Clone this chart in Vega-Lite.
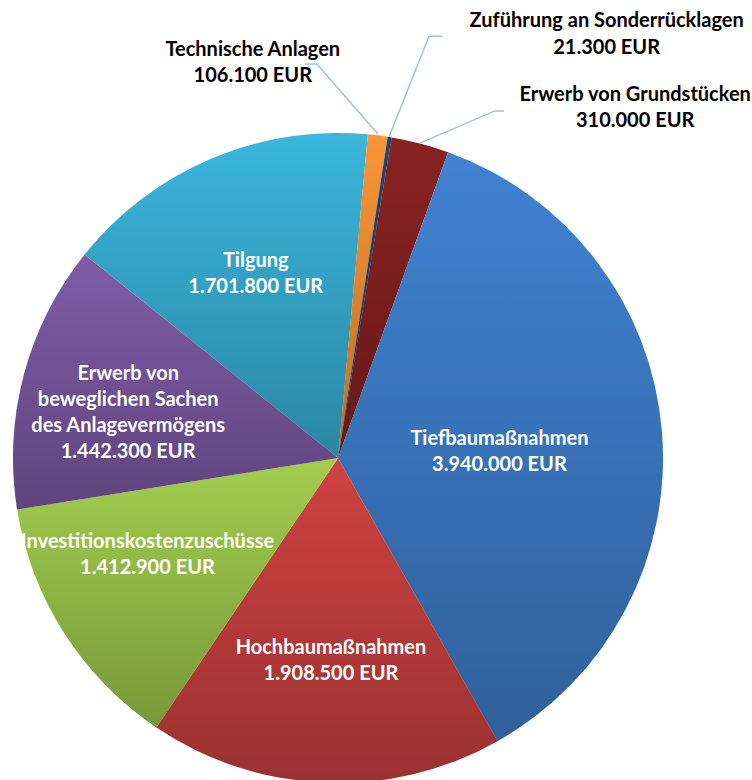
{
  "$schema": "https://vega.github.io/schema/vega-lite/v6.json",
  "width": 676,
  "height": 650,
  "autosize": {"type": "none"},
  "padding": {"left": 0, "top": 133, "right": 76, "bottom": 0},
  "background": "white",
  "config": {"view": {"stroke": null}},
  "datasets": {
    "slices": [
      {"idx": 1, "cat": "Erwerb von Grundstücken", "value": 310000, "label": "Erwerb von Grundstücken\n310.000 EUR"},
      {"idx": 2, "cat": "Tiefbaumaßnahmen", "value": 3940000, "label": "Tiefbaumaßnahmen\n3.940.000 EUR"},
      {"idx": 3, "cat": "Hochbaumaßnahmen", "value": 1908500, "label": "Hochbaumaßnahmen\n1.908.500 EUR"},
      {"idx": 4, "cat": "Investitionskostenzuschüsse", "value": 1412900, "label": "Investitionskostenzuschüsse\n1.412.900 EUR"},
      {"idx": 5, "cat": "Erwerb von beweglichen Sachen des Anlagevermögens", "value": 1442300, "label": "Erwerb von\nbeweglichen Sachen\ndes Anlagevermögens\n1.442.300 EUR"},
      {"idx": 6, "cat": "Tilgung", "value": 1701800, "label": "Tilgung\n1.701.800 EUR"},
      {"idx": 7, "cat": "Technische Anlagen", "value": 106100, "label": "Technische Anlagen\n106.100 EUR"},
      {"idx": 8, "cat": "Zuführung an Sonderrücklagen", "value": 21300, "label": "Zuführung an Sonderrücklagen\n21.300 EUR"}
    ],
    "leaders": [
      {"cat": "Technische Anlagen", "pt": 1, "lx": 0.123, "ly": 0.997},
      {"cat": "Technische Anlagen", "pt": 2, "lx": -0.065, "ly": 1.212},
      {"cat": "Technische Anlagen", "pt": 3, "lx": -0.102, "ly": 1.212},
      {"cat": "Zuführung an Sonderrücklagen", "pt": 1, "lx": 0.157, "ly": 0.988},
      {"cat": "Zuführung an Sonderrücklagen", "pt": 2, "lx": 0.28, "ly": 1.298},
      {"cat": "Zuführung an Sonderrücklagen", "pt": 3, "lx": 0.32, "ly": 1.298},
      {"cat": "Erwerb von Grundstücken", "pt": 1, "lx": 0.252, "ly": 0.969},
      {"cat": "Erwerb von Grundstücken", "pt": 2, "lx": 0.483, "ly": 1.068},
      {"cat": "Erwerb von Grundstücken", "pt": 3, "lx": 0.511, "ly": 1.068}
    ]
  },
  "layer": [
    {
      "data": {"name": "slices"},
      "mark": {"type": "arc", "stroke": null},
      "encoding": {
        "theta": {"field": "value", "type": "quantitative", "stack": true, "scale": {"range": [0.1658, 6.4490]}},
        "order": {"field": "idx", "type": "quantitative"},
        "color": {
          "field": "cat", "type": "nominal", "legend": null,
          "scale": {
            "domain": ["Erwerb von Grundstücken", "Tiefbaumaßnahmen", "Hochbaumaßnahmen", "Investitionskostenzuschüsse", "Erwerb von beweglichen Sachen des Anlagevermögens", "Tilgung", "Technische Anlagen", "Zuführung an Sonderrücklagen"],
            "range": ["#8a2222", "#4082d2", "#d04242", "#a2ce4e", "#805ca9", "#3ab6dc", "#fa9636", "#224476"]
          }
        }
      }
    },
    {
      "data": {"name": "slices"},
      "mark": {
        "type": "arc",
        "fill": {"gradient": "linear", "x1": 0, "y1": 0, "x2": 0, "y2": 1,
          "stops": [{"offset": 0, "color": "rgba(0,0,0,0)"}, {"offset": 1, "color": "rgba(0,0,0,0.26)"}]}
      },
      "encoding": {
        "theta": {"field": "value", "type": "quantitative", "stack": true},
        "order": {"field": "idx", "type": "quantitative"}
      }
    },
    {
      "data": {"name": "slices"},
      "mark": {"type": "text", "font": "Lato", "fontWeight": "bold", "fontSize": 20, "fill": "white", "align": "center", "baseline": "middle", "lineBreak": "\n", "lineHeight": 26, "radius": 162, "dx": 0, "dy": -5},
      "encoding": {
        "theta": {"field": "value", "type": "quantitative", "stack": true},
        "order": {"field": "idx", "type": "quantitative"},
        "text": {"condition": {"test": "datum.idx === 2", "field": "label", "type": "nominal"}, "value": ""}
      }
    },
    {
      "data": {"name": "slices"},
      "mark": {"type": "text", "font": "Lato", "fontWeight": "bold", "fontSize": 20, "fill": "white", "align": "center", "baseline": "middle", "lineBreak": "\n", "lineHeight": 26, "radius": 201, "dx": 1, "dy": -11},
      "encoding": {
        "theta": {"field": "value", "type": "quantitative", "stack": true},
        "order": {"field": "idx", "type": "quantitative"},
        "text": {"condition": {"test": "datum.idx === 3", "field": "label", "type": "nominal"}, "value": ""}
      }
    },
    {
      "data": {"name": "slices"},
      "mark": {"type": "text", "font": "Lato", "fontWeight": "bold", "fontSize": 20, "fill": "white", "align": "center", "baseline": "middle", "lineBreak": "\n", "lineHeight": 26, "radius": 213, "dx": -11, "dy": -31},
      "encoding": {
        "theta": {"field": "value", "type": "quantitative", "stack": true},
        "order": {"field": "idx", "type": "quantitative"},
        "text": {"condition": {"test": "datum.idx === 4", "field": "label", "type": "nominal"}, "value": ""}
      }
    },
    {
      "data": {"name": "slices"},
      "mark": {"type": "text", "font": "Lato", "fontWeight": "bold", "fontSize": 20, "fill": "white", "align": "center", "baseline": "middle", "lineBreak": "\n", "lineHeight": 26, "radius": 215, "dx": -2, "dy": -29},
      "encoding": {
        "theta": {"field": "value", "type": "quantitative", "stack": true},
        "order": {"field": "idx", "type": "quantitative"},
        "text": {"condition": {"test": "datum.idx === 5", "field": "label", "type": "nominal"}, "value": ""}
      }
    },
    {
      "data": {"name": "slices"},
      "mark": {"type": "text", "font": "Lato", "fontWeight": "bold", "fontSize": 20, "fill": "white", "align": "center", "baseline": "middle", "lineBreak": "\n", "lineHeight": 26, "radius": 203, "dx": -3, "dy": -10},
      "encoding": {
        "theta": {"field": "value", "type": "quantitative", "stack": true},
        "order": {"field": "idx", "type": "quantitative"},
        "text": {"condition": {"test": "datum.idx === 6", "field": "label", "type": "nominal"}, "value": ""}
      }
    },
    {
      "data": {"name": "slices"},
      "mark": {"type": "text", "font": "Lato", "fontWeight": "bold", "fontSize": 20, "fill": "black", "align": "center", "baseline": "middle", "lineBreak": "\n", "lineHeight": 26, "radius": 325, "dx": -125, "dy": -85},
      "encoding": {
        "theta": {"field": "value", "type": "quantitative", "stack": true},
        "order": {"field": "idx", "type": "quantitative"},
        "text": {"condition": {"test": "datum.idx === 7", "field": "label", "type": "nominal"}, "value": ""}
      }
    },
    {
      "data": {"name": "slices"},
      "mark": {"type": "text", "font": "Lato", "fontWeight": "bold", "fontSize": 20, "fill": "black", "align": "center", "baseline": "middle", "lineBreak": "\n", "lineHeight": 27, "radius": 325, "dx": 217, "dy": -116},
      "encoding": {
        "theta": {"field": "value", "type": "quantitative", "stack": true},
        "order": {"field": "idx", "type": "quantitative"},
        "text": {"condition": {"test": "datum.idx === 8", "field": "label", "type": "nominal"}, "value": ""}
      }
    },
    {
      "data": {"name": "slices"},
      "mark": {"type": "text", "font": "Lato", "fontWeight": "bold", "fontSize": 20, "fill": "black", "align": "center", "baseline": "middle", "lineBreak": "\n", "lineHeight": 26, "radius": 325, "dx": 215, "dy": -49},
      "encoding": {
        "theta": {"field": "value", "type": "quantitative", "stack": true},
        "order": {"field": "idx", "type": "quantitative"},
        "text": {"condition": {"test": "datum.idx === 1", "field": "label", "type": "nominal"}, "value": ""}
      }
    },
    {
      "data": {"name": "leaders"},
      "mark": {"type": "line", "stroke": "#9dc3e6", "strokeWidth": 1.5, "interpolate": "linear"},
      "encoding": {
        "x": {"field": "lx", "type": "quantitative", "axis": null, "scale": {"domain": [-1.04, 1.04], "zero": false, "nice": false}},
        "y": {"field": "ly", "type": "quantitative", "axis": null, "scale": {"domain": [-1, 1], "zero": false, "nice": false}},
        "detail": {"field": "cat", "type": "nominal"},
        "order": {"field": "pt", "type": "quantitative"}
      }
    }
  ]
}
